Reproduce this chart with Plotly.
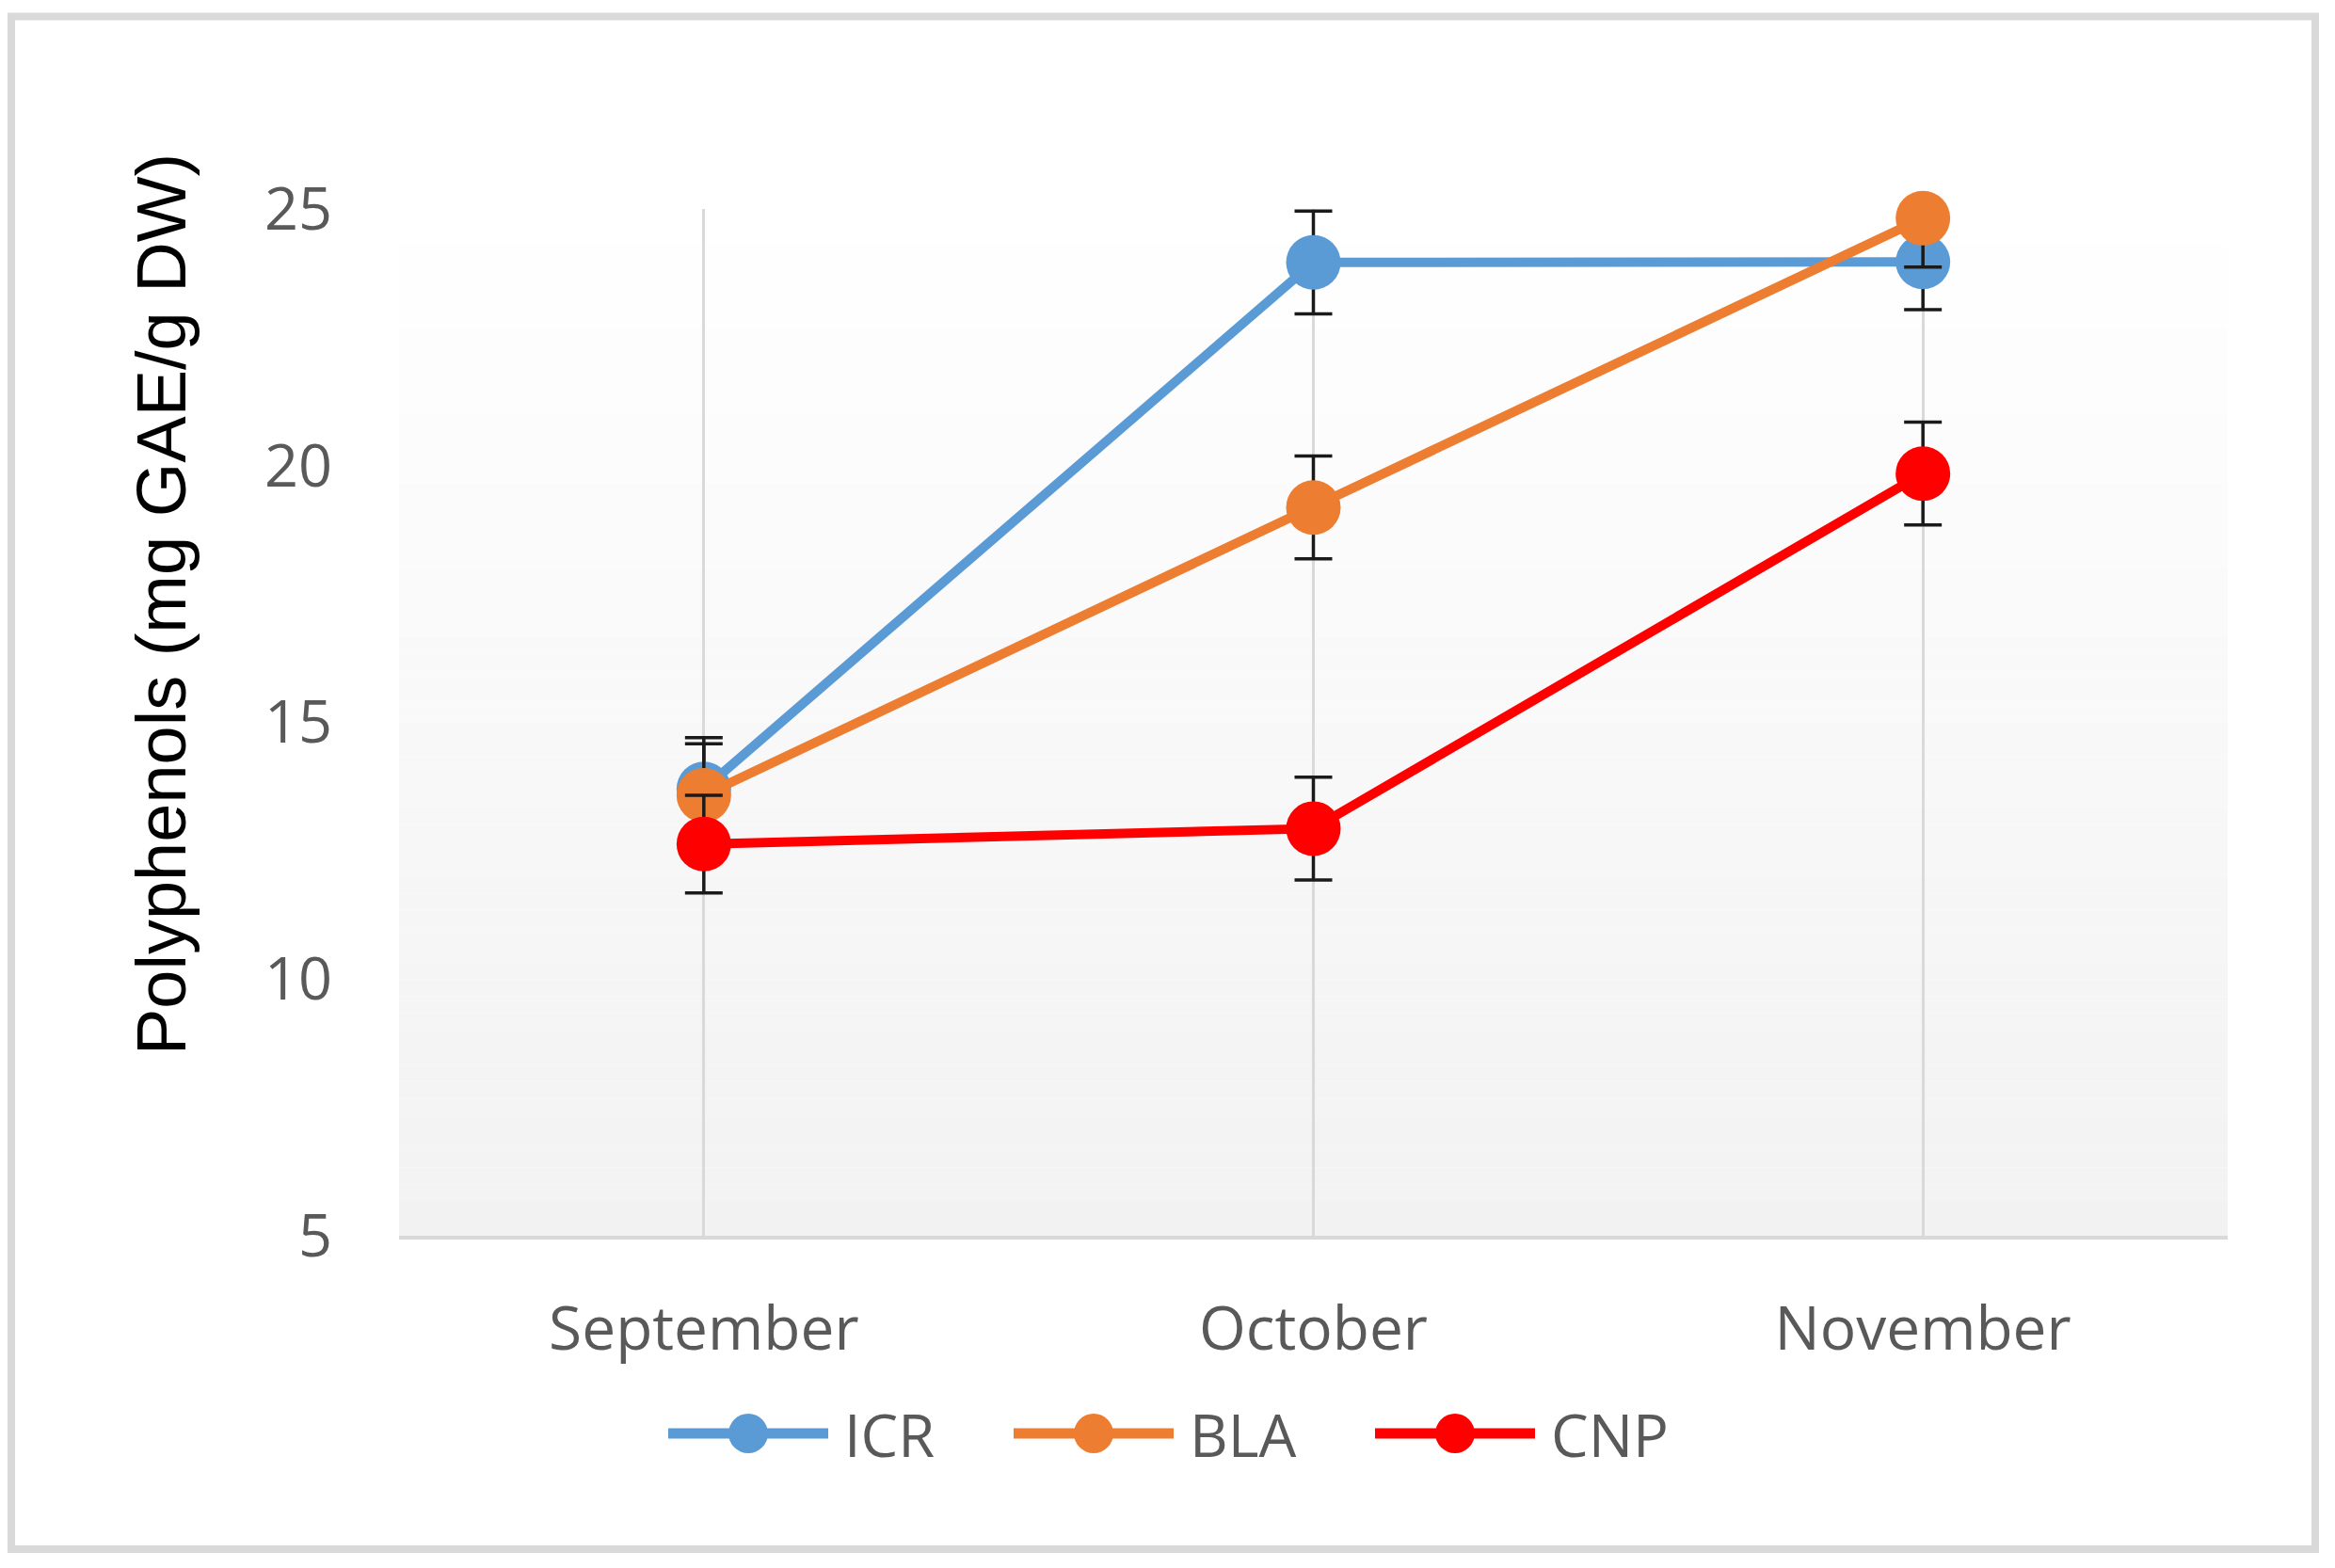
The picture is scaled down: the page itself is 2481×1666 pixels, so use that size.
import plotly.graph_objects as go

# ---- data ----
months = ["September", "October", "November"]
icr = [13.7, 23.95, 23.96]
bla = [13.58, 19.18, 24.81]
cnp = [12.63, 12.93, 19.84]
icr_err = [1.0, 1.0, 0.93]
bla_err = [1.0, 1.0, 0.95]
cnp_err = [0.95, 1.0, 1.0]
series_names = ["ICR", "BLA", "CNP"]
y_ticks = [5, 10, 15, 20, 25]
y_title = "Polyphenols (mg GAE/g DW)"

# ---- style ----
W, H = 2481, 1666
colors = ["#5B9BD5", "#ED7D31", "#FF0000"]
label_color = "#595959"
label_font = "Open Sans"
grid_color = "#d9d9d9"

def px(x):
    return x / W

def py(y):
    return 1 - y / H

fig = go.Figure()

for name, vals, errs, col in zip(series_names, [icr, bla, cnp], [icr_err, bla_err, cnp_err], colors):
    fig.add_trace(go.Scatter(
        x=months, y=vals, name=name, mode="lines+markers",
        line=dict(color=col, width=10),
        marker=dict(color=col, size=58),
        error_y=dict(type="data", array=errs, visible=True, color="#1a1a1a", thickness=3.5, width=20),
        cliponaxis=False, showlegend=False,
    ))

shapes = []
# plot-area gradient background (white at top -> #f2f2f2 at bottom)
nb = 60
for i in range(nb):
    t = (i + 0.5) / nb  # 0 bottom -> 1 top
    v = round(242 + (255 - 242) * t)
    shapes.append(dict(type="rect", xref="x domain", yref="y domain",
                       x0=0, x1=1, y0=i / nb, y1=(i + 1) / nb,
                       fillcolor=f"rgb({v},{v},{v})", line=dict(width=0), layer="below"))

# outer border
shapes.append(dict(type="rect", xref="paper", yref="paper",
                   x0=px(12), x1=px(2460), y0=py(17.5), y1=py(1646),
                   line=dict(color="#d9d9d9", width=8), fillcolor="rgba(0,0,0,0)", layer="above"))

# custom legend (long line samples like the original)
annotations = []
leg_x = [710, 1077, 1461]
leg_y = 1523
line_len = 170
for name, col, x0 in zip(series_names, colors, leg_x):
    shapes.append(dict(type="line", xref="paper", yref="paper",
                       x0=px(x0), x1=px(x0 + line_len), y0=py(leg_y), y1=py(leg_y),
                       line=dict(color=col, width=11)))
    shapes.append(dict(type="circle", xref="paper", yref="paper",
                       xsizemode="pixel", ysizemode="pixel",
                       xanchor=px(x0 + line_len / 2), yanchor=py(leg_y),
                       x0=-21, x1=21, y0=-21, y1=21,
                       fillcolor=col, line=dict(width=0)))
    annotations.append(dict(xref="paper", yref="paper", x=px(x0 + line_len + 15), y=py(leg_y),
                            text=name, showarrow=False, xanchor="left", yanchor="middle",
                            font=dict(family=label_font, size=63, color=label_color)))

# y-axis title
annotations.append(dict(xref="paper", yref="paper", x=px(172), y=py(642), text=y_title,
                        textangle=-90, showarrow=False, xanchor="center", yanchor="middle",
                        font=dict(family="Liberation Sans", size=74, color="#000000")))

fig.update_layout(
    width=W, height=H,
    margin=dict(l=0, r=0, t=0, b=0),
    paper_bgcolor="white", plot_bgcolor="rgba(0,0,0,0)",
    shapes=shapes, annotations=annotations,
    showlegend=False,
    xaxis=dict(domain=[px(424), px(2367)], type="category", range=[-0.5, 2.5],
               showgrid=True, gridcolor=grid_color, gridwidth=3,
               showline=True, linecolor=grid_color, linewidth=4,
               ticks="", ticklabelstandoff=40, automargin=False,
               tickfont=dict(family=label_font, size=64, color=label_color)),
    yaxis=dict(domain=[py(1313.3), py(221.5)], range=[5, 25], tickvals=y_ticks,
               showgrid=False, zeroline=False, showline=False,
               ticks="", ticklabelstandoff=70, automargin=False,
               tickfont=dict(family=label_font, size=63, color=label_color)),
)

fig.write_html("out.html", config={"displayModeBar": False},
               post_script="document.body.style.margin='0px';document.body.style.overflow='hidden';")
